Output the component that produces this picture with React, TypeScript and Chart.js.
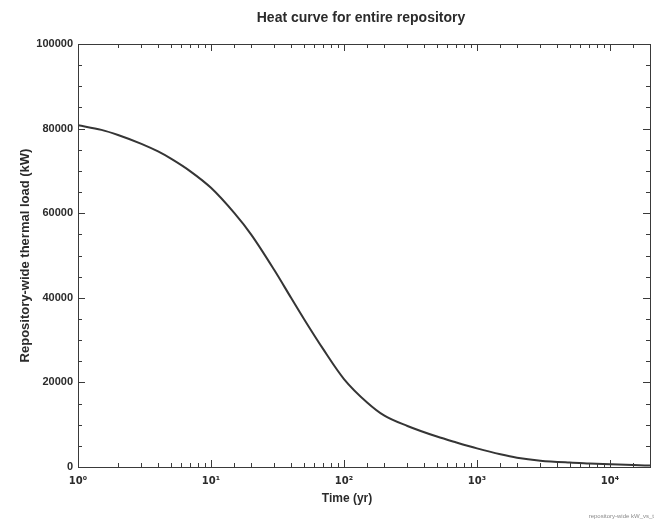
import React, { useEffect, useRef } from "react";
import { Chart, registerables } from "chart.js";

Chart.register(...registerables);

const titleText = "Heat curve for entire repository";
const xTitle = "Time (yr)";
const yTitle = "Repository-wide thermal load (kW)";
const footnote = "repository-wide kW_vs_t";

const timeYears = [1, 1.5, 2, 3, 4, 5, 7, 10, 15, 20, 30, 40, 50, 70, 100, 150, 200, 300, 500, 700, 1000, 1500, 2000, 3000, 5000, 7000, 10000, 15000, 20000];
const loadKW = [80800, 79700, 78500, 76400, 74600, 72900, 69900, 66000, 60000, 55000, 46500, 40000, 35000, 27800, 20800, 15200, 12200, 9700, 7200, 5800, 4400, 3000, 2200, 1500, 1050, 850, 650, 450, 350];

const xMin = 1;
const xMax = 20000;
const yMin = 0;
const yMax = 100000;
const yStep = 5000;
const yLabelStep = 20000;

const FONT = "'Liberation Sans', Arial, sans-serif";
const INK = "#2b2b2b";

const decorPlugin = {
  id: "decor",
  afterDraw(chart: any) {
    const { ctx, chartArea, scales } = chart;
    const { left, right, top, bottom } = chartArea;
    ctx.save();
    ctx.strokeStyle = "#3a3a3a";
    ctx.lineWidth = 1;
    ctx.strokeRect(left + 0.5, top + 0.5, right - left, bottom - top);
    ctx.beginPath();
    const xs = scales.x;
    for (const t of xs.ticks) {
      const v = t.value;
      if (v < xMin || v > xMax) continue;
      const px = Math.round(xs.getPixelForValue(v)) + 0.5;
      const lg = Math.log10(v);
      const major = Math.abs(lg - Math.round(lg)) < 1e-9;
      const len = major ? 7 : 4;
      ctx.moveTo(px, bottom);
      ctx.lineTo(px, bottom - len);
      ctx.moveTo(px, top);
      ctx.lineTo(px, top + len);
    }
    const ys = scales.y;
    for (const t of ys.ticks) {
      const v = t.value;
      const py = Math.round(ys.getPixelForValue(v)) + 0.5;
      const major = v % yLabelStep === 0;
      const len = major ? 7 : 4;
      ctx.moveTo(left, py);
      ctx.lineTo(left + len, py);
      ctx.moveTo(right, py);
      ctx.lineTo(right - len, py);
    }
    ctx.stroke();
    ctx.fillStyle = INK;
    ctx.font = `bold 14px ${FONT}`;
    ctx.textAlign = "center";
    ctx.textBaseline = "middle";
    ctx.fillText(titleText, 361, 18);
    ctx.font = `bold 12px ${FONT}`;
    ctx.fillText(xTitle, 347, 499);
    ctx.fillStyle = "#8a8a8a";
    ctx.font = `6px ${FONT}`;
    ctx.textAlign = "right";
    ctx.fillText(footnote, 654, 516);
    ctx.restore();
  },
};

const sup: Record<string, string> = { "0": "⁰", "1": "¹", "2": "²", "3": "³", "4": "⁴", "5": "⁵" };

export default function App() {
  const ref = useRef<HTMLCanvasElement | null>(null);
  useEffect(() => {
    if (!ref.current) return;
    const points = timeYears.map((t, i) => ({ x: t, y: loadKW[i] }));
    const chart = new Chart(ref.current, {
      type: "line",
      data: {
        datasets: [
          {
            data: points,
            borderColor: "#353535",
            borderWidth: 2,
            pointRadius: 0,
            cubicInterpolationMode: "monotone",
            fill: false,
          },
        ],
      },
      plugins: [decorPlugin],
      options: {
        animation: false,
        responsive: true,
        maintainAspectRatio: false,
        layout: { padding: { left: 14, right: 8, top: 44, bottom: 14 } },
        plugins: { legend: { display: false }, tooltip: { enabled: false }, title: { display: false } },
        scales: {
          x: {
            type: "logarithmic",
            min: xMin,
            max: xMax,
            grid: { display: false, drawTicks: false },
            border: { display: false },
            afterFit: (s: any) => {
              s.height = 41;
            },
            ticks: {
              autoSkip: false,
              maxRotation: 0,
              padding: 8,
              color: INK,
              font: { family: "'DejaVu Sans', sans-serif", size: 10, weight: "bold" },
              callback: (value: any) => {
                const v = Number(value);
                const lg = Math.log10(v);
                if (Math.abs(lg - Math.round(lg)) < 1e-9) {
                  return "10" + String(Math.round(lg)).split("").map((c) => sup[c]).join("");
                }
                return "";
              },
            },
            title: { display: false },
          },
          y: {
            type: "linear",
            min: yMin,
            max: yMax,
            grid: { display: false, drawTicks: false },
            border: { display: false },
            afterFit: (s: any) => {
              s.width = 64;
            },
            ticks: {
              stepSize: yStep,
              autoSkip: false,
              padding: 5,
              color: INK,
              font: { family: FONT, size: 11, weight: "bold" },
              callback: (value: any) => {
                const v = Number(value);
                return v % yLabelStep === 0 ? String(v) : "";
              },
            },
            title: {
              display: true,
              text: yTitle,
              color: INK,
              font: { family: FONT, size: 13, weight: "bold" },
              padding: { top: 4, bottom: 2 },
            },
          },
        },
      },
    } as any);
    return () => chart.destroy();
  }, []);
  return (
    <div style={{ position: "fixed", left: 0, top: 0, width: 658, height: 522, background: "#fff" }}>
      <canvas ref={ref} />
    </div>
  );
}
